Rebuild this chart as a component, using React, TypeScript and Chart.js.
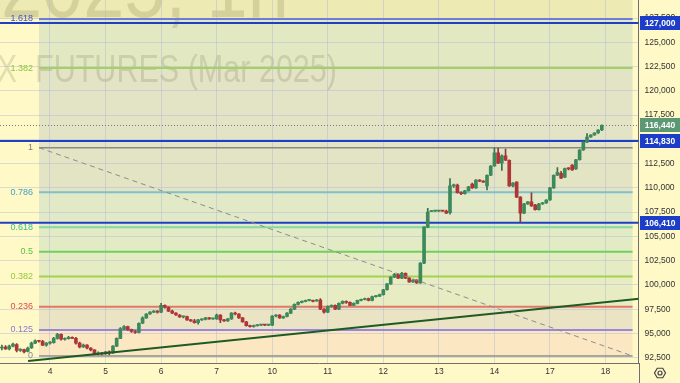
import React, { useEffect, useRef } from 'react';
import { Chart, registerables } from 'chart.js';

Chart.register(...registerables);

// ---- data ----
const dayLabels = ['4', '5', '6', '7', '10', '11', '12', '13', '14', '17', '18'];
const dayStart = [13, 28, 43, 58, 73, 88, 103, 118, 133, 148, 163];
const yTicks = [92500, 95000, 97500, 100000, 102500, 105000, 107500, 110000, 112500, 115000, 117500, 120000, 122500, 125000, 127500];

const open = [
  93500, 93600, 93400, 93700, 93850, 93250, 93350, 93150, 93500, 94000, 94250, 94200, 93800,
  94000, 94050, 94500, 94900, 94400, 94450, 94600, 94500, 94000, 93600, 93800, 93500, 93300, 92900, 93000,
  92900, 93100, 93000, 93700, 94500, 95500, 95700, 95400, 95200, 95100, 96050, 96600, 97000, 97200, 97300,
  97200, 97900, 97700, 97300, 97100, 96900, 96700, 96750, 96400, 96300, 96100, 96400, 96450, 96600, 96500,
  96500, 96900, 96400, 96300, 96500, 97100, 97000, 96600, 96200, 95800, 95700, 95800, 95850, 95900, 95850,
  95850, 96800, 96900, 96600, 96750, 97100, 97500, 98000, 98200, 98300, 98400, 98400, 98350, 98450, 97500,
  97200, 97800, 97900, 97500, 98100, 98300, 98200, 97900, 98100, 98400, 98500, 98600, 98400, 98800, 98850,
  99000, 99500, 100100, 100800, 101100, 100700, 101200, 100700, 100300, 100500, 100200, 102250, 105950, 107550, 107600,
  107600, 107610, 107600, 107450, 110200, 110300, 109500, 109400, 109700, 110400, 110000, 110800, 110700, 110200, 111300,
  112250, 113600, 112550, 113300, 112850, 110200, 110600, 109050, 107400, 108350, 108550, 108250, 107750, 108350, 108450,
  108750, 110000, 111300, 111500, 111100, 112000, 112350, 111950, 112900, 113900, 114720, 115240, 115450, 115650, 115960,
];
const high = [
  93800, 93750, 93800, 94000, 93950, 93450, 93400, 93600, 94100, 94350, 94300, 94300, 94050,
  94150, 94600, 95000, 94950, 94550, 94700, 94650, 94600, 94100, 93900, 93850, 93550, 93350, 93100, 93050,
  93150, 93200, 93750, 94550, 95600, 95800, 95750, 95450, 95300, 96100, 96700, 97050, 97250, 97350, 97350,
  98100, 97950, 97750, 97400, 97150, 96950, 96800, 96800, 96450, 96450, 96450, 96500, 96650, 96650, 96550,
  97000, 96950, 96450, 96550, 97150, 97200, 97050, 96650, 96250, 95850, 95850, 95900, 95950, 95950, 95900,
  96850, 96950, 96950, 96800, 97150, 97550, 98050, 98250, 98350, 98450, 98450, 98450, 98500, 98600, 97550,
  97850, 97950, 97950, 98150, 98350, 98350, 98250, 98150, 98450, 98550, 98650, 98650, 98850, 98900, 99050,
  99550, 100150, 100850, 101200, 101150, 101300, 101250, 100750, 100550, 100550, 102300, 106000, 107900, 107650, 107650,
  107650, 107650, 107700, 110950, 110400, 110400, 109600, 109750, 110150, 110500, 110850, 110850, 110750, 111350, 112300,
  114100, 114100, 113400, 114000, 112900, 110550, 110650, 109100, 108400, 108600, 109500, 108300, 108400, 108500, 108800,
  110050, 111350, 112100, 111700, 112050, 112100, 112400, 112950, 113950, 114750, 115600, 115500, 115700, 116000, 116500,
];
const low = [
  93300, 93350, 93300, 93600, 93100, 93150, 93000, 93100, 93450, 93950, 94100, 93750, 93700,
  93900, 94000, 94400, 94300, 94300, 94400, 94450, 93900, 93500, 93550, 93400, 93200, 92850, 92800, 92800,
  92850, 92800, 92950, 93650, 94450, 95400, 95300, 95100, 95000, 95050, 96000, 96550, 96950, 97150, 97100,
  97150, 97600, 97250, 97050, 96850, 96650, 96600, 96350, 96250, 96050, 95950, 96350, 96400, 96450, 96450,
  96450, 96100, 96250, 96250, 96450, 96900, 96550, 96150, 95750, 95650, 95650, 95750, 95800, 95800, 95800,
  95800, 96700, 96550, 96550, 96700, 97050, 97450, 97950, 98150, 98250, 98350, 98250, 98300, 97450, 97100,
  97150, 97700, 97450, 97450, 98050, 98100, 97850, 97850, 98050, 98350, 98450, 98350, 98350, 98750, 98800,
  98950, 99450, 100050, 100750, 100650, 100650, 100650, 100250, 100250, 100150, 100150, 102200, 105900, 107550, 107580,
  107580, 107580, 107350, 107300, 110050, 109450, 109300, 109350, 109650, 109950, 109950, 110650, 110550, 109800, 111250,
  112200, 112500, 111800, 112800, 110150, 110100, 109000, 106480, 107350, 108300, 108100, 107700, 107700, 108300, 108400,
  108700, 109950, 111250, 110950, 111050, 111850, 111800, 111900, 112850, 113850, 114650, 115200, 115400, 115600, 115900,
];
const close = [
  93600, 93400, 93700, 93900, 93250, 93350, 93100, 93500, 94000, 94250, 94200, 93800, 94000,
  94050, 94500, 94900, 94400, 94450, 94600, 94500, 94000, 93600, 93800, 93500, 93300, 92900, 93000, 92900,
  93100, 93000, 93700, 94500, 95500, 95700, 95400, 95200, 95100, 96050, 96600, 97000, 97200, 97300, 97200,
  97900, 97700, 97300, 97100, 96900, 96700, 96750, 96400, 96300, 96100, 96400, 96450, 96600, 96500, 96500,
  96900, 96400, 96300, 96500, 97100, 97000, 96600, 96200, 95800, 95700, 95800, 95850, 95900, 95850, 95850,
  96800, 96900, 96600, 96750, 97100, 97500, 98000, 98200, 98300, 98400, 98400, 98300, 98400, 97500, 97200,
  97800, 97900, 97500, 98100, 98300, 98200, 97900, 98100, 98400, 98500, 98600, 98400, 98800, 98850, 99000,
  99500, 100100, 100800, 101100, 100700, 101200, 100700, 100300, 100500, 100200, 102250, 105950, 107500, 107620, 107600,
  107610, 107600, 107400, 110200, 110300, 109500, 109400, 109700, 110100, 110000, 110800, 110700, 110600, 111300, 112250,
  113600, 112550, 113300, 112850, 110200, 110500, 109050, 107400, 108350, 108550, 108150, 107750, 108350, 108450, 108750,
  110000, 111300, 111600, 111000, 112000, 111950, 111850, 112900, 113900, 114720, 115240, 115450, 115650, 115960, 116440,
];

// drawing anchors (bar index, price)
const trendX = [7.07, 172.2];
const trendY = [92160, 98580];
const fibX = [10.04, 170.3];
const fibPrices = [92676, 114140]; // level 0, level 1
const fibLevels = [0, 0.125, 0.236, 0.382, 0.5, 0.618, 0.786, 1, 1.382, 1.618];
const fibLabels = ['0', '0.125', '0.236', '0.382', '0.5', '0.618', '0.786', '1', '1.382', '1.618'];
const fibLineColors = ['#8E8E8E', '#9C86D6', '#E07A66', '#A6D150', '#6FD060', '#84D8A4', '#80BFD0', '#8A8A8A', '#A5D25A', '#6E7ED8'];
const fibTextColors = ['#8A8A8A', '#8C78D4', '#E04848', '#96C83C', '#58C04A', '#36C090', '#45A0CC', '#7A7A7A', '#8CC63F', '#4650C8'];
const fibZoneColors = ['#FBE8C2', '#EAE3C4', '#E7ECC3', '#E5ECC3', '#E2EBC4', '#E2E9C6', '#E3E4C4', '#E3E3C5', '#E1E8C2'];
const priceLines = [127000, 114830, 106410];
const lastPrice = 116440;

const FONT = '"Liberation Sans", Arial, sans-serif';

const fibPrice = (lvl: number) => fibPrices[0] + lvl * (fibPrices[1] - fibPrices[0]);

const decoPlugin: any = {
  id: 'deco',
  beforeDraw(chart: any) {
    const { ctx, chartArea: a, scales } = chart;
    const xs = scales.x, ys = scales.y;
    ctx.save();
    ctx.fillStyle = '#FFF9C7';
    ctx.fillRect(0, 0, chart.width, chart.height);
    const fx0 = xs.getPixelForValue(fibX[0]);
    const fx1 = xs.getPixelForValue(fibX[1]);
    const yTop = ys.getPixelForValue(fibPrice(fibLevels[fibLevels.length - 1]));
    ctx.fillStyle = '#EEEAB4';
    ctx.fillRect(a.left, a.top, fx1 - a.left, yTop - a.top);
    for (let k = 0; k < fibLevels.length - 1; k++) {
      const y1 = ys.getPixelForValue(fibPrice(fibLevels[k]));
      const y2 = ys.getPixelForValue(fibPrice(fibLevels[k + 1]));
      ctx.fillStyle = fibZoneColors[k];
      ctx.fillRect(fx0, y2, fx1 - fx0, y1 - y2);
    }
    // watermark
    ctx.beginPath();
    ctx.rect(a.left, a.top, a.right - a.left, a.bottom - a.top);
    ctx.clip();
    ctx.fillStyle = 'rgba(90,90,50,0.17)';
    ctx.textBaseline = 'alphabetic';
    {
      ctx.font = `88px ${FONT}`;
      const sx = 0.84;
      ctx.save();
      ctx.translate(1, 17);
      ctx.scale(sx, 1);
      ctx.textAlign = 'right';
      ctx.fillText('RIH', 0, 0);
      ctx.textAlign = 'left';
      ctx.fillText('2025, 1h', 0, 0);
      ctx.restore();
    }
    {
      ctx.font = `38px ${FONT}`;
      const w = ctx.measureText('FUTURES (Mar 2025)').width;
      const sx = (337 - 35) / w;
      ctx.save();
      ctx.translate(35, 82);
      ctx.scale(sx, 1);
      ctx.textAlign = 'left';
      ctx.fillText('FUTURES (Mar 2025)', 0, 0);
      ctx.restore();
      ctx.save();
      ctx.translate(17, 82);
      ctx.scale(sx, 1);
      ctx.textAlign = 'right';
      ctx.fillText('RTS INDEX', 0, 0);
      ctx.restore();
    }
    ctx.restore();
  },
  beforeDatasetsDraw(chart: any) {
    const { ctx, chartArea: a, scales } = chart;
    const xs = scales.x, ys = scales.y;
    const fx0 = xs.getPixelForValue(fibX[0]);
    const fx1 = xs.getPixelForValue(fibX[1]);
    ctx.save();
    for (let k = 0; k < fibLevels.length; k++) {
      const y = ys.getPixelForValue(fibPrice(fibLevels[k]));
      ctx.strokeStyle = fibLineColors[k];
      ctx.lineWidth = fibLevels[k] === 0 || fibLevels[k] === 1 ? 1.5 : 2;
      ctx.beginPath();
      ctx.moveTo(fx0, y);
      ctx.lineTo(fx1, y);
      ctx.stroke();
      ctx.fillStyle = fibTextColors[k];
      ctx.font = `9px ${FONT}`;
      ctx.textAlign = 'right';
      ctx.textBaseline = 'middle';
      ctx.fillText(fibLabels[k], fx0 - 6, y);
    }
    const yl = Math.round(ys.getPixelForValue(lastPrice)) + 0.5;
    ctx.strokeStyle = '#7a7a7a';
    ctx.lineWidth = 1;
    ctx.setLineDash([1, 2]);
    ctx.beginPath();
    ctx.moveTo(a.left, yl);
    ctx.lineTo(a.right, yl);
    ctx.stroke();
    ctx.setLineDash([]);
    ctx.strokeStyle = '#1F3FC4';
    ctx.lineWidth = 2;
    priceLines.forEach((p) => {
      const y = ys.getPixelForValue(p);
      ctx.beginPath();
      ctx.moveTo(a.left, y);
      ctx.lineTo(a.right, y);
      ctx.stroke();
    });
    ctx.restore();
  },
  afterDraw(chart: any) {
    const { ctx, chartArea: a, scales } = chart;
    const ys = scales.y;
    ctx.save();
    const box = (p: number, bg: string) => {
      const y = ys.getPixelForValue(p);
      ctx.fillStyle = bg;
      ctx.fillRect(a.right + 1.5, Math.round(y) - 7, 40, 14);
      ctx.fillStyle = '#ffffff';
      ctx.font = `bold 8.5px ${FONT}`;
      ctx.textAlign = 'center';
      ctx.textBaseline = 'middle';
      ctx.fillText(p.toLocaleString('en-US'), a.right + 21.5, Math.round(y) + 0.5);
    };
    priceLines.forEach((p) => box(p, '#1B3DC8'));
    box(lastPrice, '#5C9873');
    ctx.strokeStyle = '#6f6f6f';
    ctx.lineWidth = 1;
    ctx.beginPath();
    ctx.moveTo(Math.round(a.right) + 0.5, a.bottom);
    ctx.lineTo(Math.round(a.right) + 0.5, chart.height);
    ctx.stroke();
    const cx = 660, cy = 373;
    ctx.strokeStyle = '#444';
    ctx.lineWidth = 1.2;
    ctx.beginPath();
    for (let i = 0; i < 6; i++) {
      const ang = (Math.PI / 3) * i;
      const px = cx + 5.5 * Math.cos(ang), py = cy + 5.5 * Math.sin(ang);
      if (i === 0) ctx.moveTo(px, py); else ctx.lineTo(px, py);
    }
    ctx.closePath();
    ctx.stroke();
    ctx.beginPath();
    ctx.arc(cx, cy, 2, 0, Math.PI * 2);
    ctx.stroke();
    ctx.restore();
  },
};

export default function App() {
  const ref = useRef<HTMLCanvasElement>(null);
  useEffect(() => {
    if (!ref.current) return;
    Chart.defaults.font.family = FONT;
    const idx = open.map((_, i) => i);
    const up = idx.map((i) => close[i] >= open[i]);
    const chart = new Chart(ref.current, {
      type: 'bar',
      data: {
        datasets: [
          {
            type: 'line',
            data: trendX.map((x, i) => ({ x, y: trendY[i] })),
            borderColor: '#1E5A24',
            borderWidth: 2,
            pointRadius: 0,
            order: 0,
          } as any,
          {
            type: 'line',
            data: fibX.map((x, i) => ({ x, y: fibPrices[1 - i] })),
            borderColor: '#8c8c8c',
            borderWidth: 1,
            borderDash: [5, 4],
            pointRadius: 0,
            order: 1,
          } as any,
          {
            type: 'bar',
            data: idx.map((i) => ({ x: i, y: [open[i], close[i]] })),
            backgroundColor: up.map((u) => (u ? '#3C8A5C' : '#B03636')),
            borderWidth: 0,
            barThickness: 3,
            minBarLength: 1,
            grouped: false,
            order: 2,
          } as any,
          {
            type: 'bar',
            data: idx.map((i) => ({ x: i, y: [low[i], high[i]] })),
            backgroundColor: up.map((u) => (u ? '#3a6e50' : '#8a3a3a')),
            borderWidth: 0,
            barThickness: 1,
            minBarLength: 1,
            grouped: false,
            order: 3,
          } as any,
        ],
      },
      options: {
        responsive: false,
        animation: false,
        devicePixelRatio: 1,
        events: [],
        layout: { padding: 0, autoPadding: false } as any,
        plugins: { legend: { display: false }, tooltip: { enabled: false } },
        scales: {
          x: {
            type: 'linear',
            min: -0.5,
            max: 171.9,
            offset: false,
            afterFit: (s: any) => {
              s.height = 20;
              s.paddingLeft = 0; s.paddingRight = 0; s.paddingTop = 0; s.paddingBottom = 0;
            },
            afterBuildTicks: (s: any) => { s.ticks = dayStart.map((v) => ({ value: v })); },
            ticks: {
              autoSkip: false,
              maxRotation: 0,
              padding: 4,
              color: '#333',
              font: { size: 8.5, family: FONT },
              callback: (v: any) => dayLabels[dayStart.indexOf(Number(v))] ?? '',
            },
            grid: { offset: false, color: 'rgba(175,185,215,0.45)', drawTicks: false },
            border: { color: '#6f6f6f' },
          } as any,
          y: {
            type: 'linear',
            position: 'right',
            min: 91955,
            max: 129358,
            beginAtZero: false,
            afterFit: (s: any) => {
              s.width = 41.5;
              s.paddingLeft = 0; s.paddingRight = 0; s.paddingTop = 0; s.paddingBottom = 0;
            },
            afterBuildTicks: (s: any) => { s.ticks = yTicks.map((v) => ({ value: v })); },
            ticks: {
              padding: 6,
              color: '#333',
              font: { size: 8.5, family: FONT },
              callback: (v: any) => Number(v).toLocaleString('en-US'),
            },
            grid: { color: 'rgba(175,185,215,0.45)', drawTicks: false },
            border: { color: '#6f6f6f' },
          } as any,
        },
      },
      plugins: [decoPlugin],
    });
    return () => chart.destroy();
  }, []);
  return (
    <div style={{ position: 'absolute', left: 0, top: 0, width: 680, height: 383 }}>
      <canvas ref={ref} width={680} height={383} style={{ display: 'block', width: 680, height: 383 }} />
    </div>
  );
}
